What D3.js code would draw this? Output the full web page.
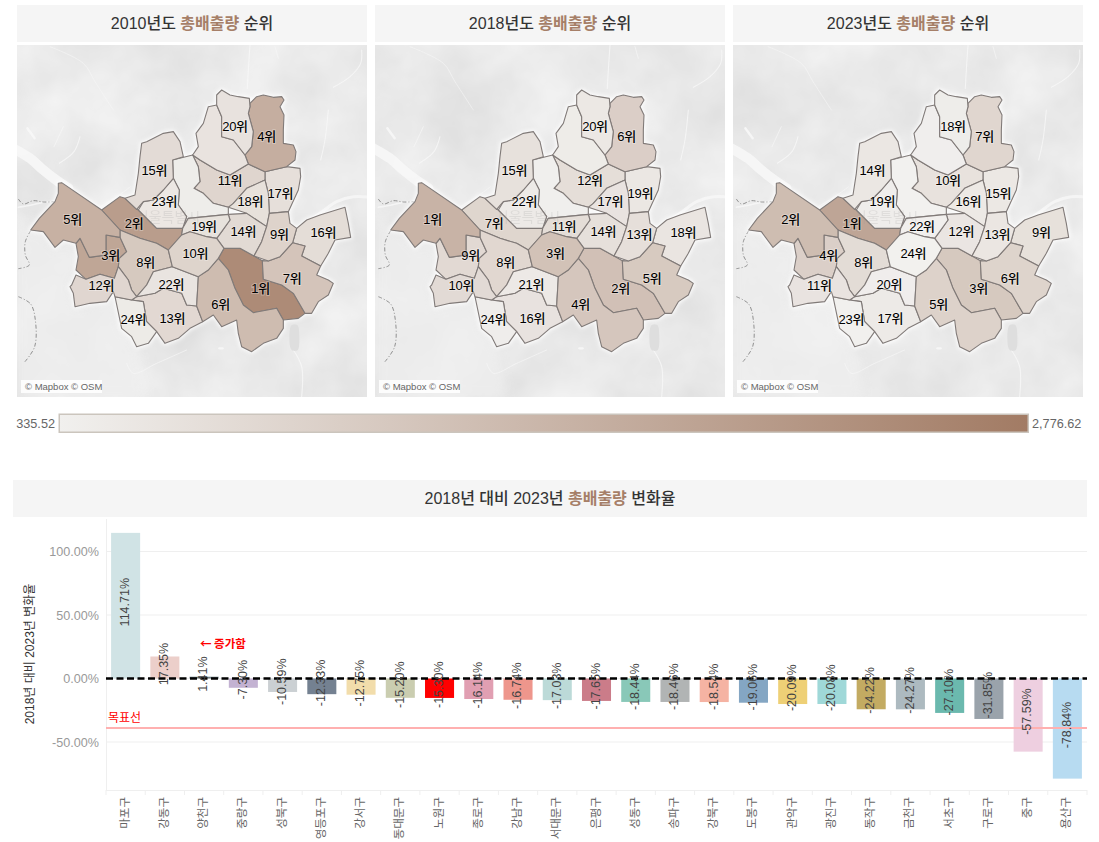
<!DOCTYPE html>
<html><head><meta charset="utf-8">
<script src="https://cdn.jsdelivr.net/npm/d3@7"></script>
<style>
html,body{margin:0;padding:0;background:#fff}
svg{display:block}
text{font-family:"Liberation Sans","Noto Sans CJK KR",sans-serif}
</style></head><body><svg id="c" width="1099" height="842"></svg>
<script>
const districts=["마포구","강동구","양천구","중랑구","성북구","영등포구","강서구","동대문구","노원구","종로구","강남구","서대문구","은평구","성동구","송파구","강북구","도봉구","관악구","광진구","동작구","금천구","서초구","구로구","중구","용산구"];
const changeRates=[114.71,17.35,1.41,-7.30,-10.59,-12.33,-12.75,-15.20,-15.30,-16.14,-16.74,-17.03,-17.65,-18.44,-18.46,-18.54,-19.06,-20.09,-20.08,-24.22,-24.27,-27.10,-31.85,-57.59,-78.84];
const barColors=["#d0e3e5","#eccfca","#6e7f85","#c3b2d2","#cbd0d3","#748191","#f2ddab","#cacdb0","#ff0000","#e19fb2","#ee968c","#bcdad8","#cb7c89","#89c8b8","#b1b4b4","#f5b3a3","#84a6c3","#eed076","#9fd8d8","#c3ab62","#adbac0","#6bb9ae","#9aa3ab","#eecfe0","#b7dbf1"];
const emissions2010=[2240,790,2045,750,980,1260,1800,720,1850,450,2650,560,830,860,1360,655,680,900,1020,635,490,1555,940,700,1000];
const emissions2018=[970,610,880,570,780,930,1750,640,1120,385,1440,495,710,730,1240,470,540,660,750,520,420,1310,850,800,1410];
const emissions2023=[2060,720,1100,550,690,820,1530,530,950,336,1250,430,570,600,1000,395,450,500,590,410,360,1040,640,380,345];
const ranks2010=[2,16,3,17,11,8,5,18,4,null,1,23,15,14,7,null,20,13,9,22,24,6,12,19,10];
const ranks2018=[7,18,9,19,12,8,1,17,6,null,2,22,15,14,5,null,20,16,13,21,24,4,10,11,3];
const ranks2023=[1,9,4,15,10,8,2,16,7,null,3,19,14,12,6,null,18,17,13,20,23,5,11,22,24];
const years=["2010","2018","2023"];
const legendDomain=[335.52,2776.62];
const yTicks=[100,50,0,-50];
// district outlines in map units
const outlines={
"도봉구":[[650,285],[665,270],[690,285],[715,290],[748,295],[750,320],[745,340],[760,395],[755,440],[735,465],[700,420],[665,410],[665,350],[650,315]],
"노원구":[[750,310],[770,290],[790,285],[820,292],[845,290],[852,300],[840,320],[852,345],[850,390],[850,430],[880,435],[888,455],[885,480],[860,500],[795,515],[745,492],[735,465],[755,440],[760,395],[745,340],[750,320]],
"강북구":[[625,320],[650,315],[665,350],[665,410],[700,420],[735,465],[745,492],[690,525],[650,510],[600,480],[578,465],[595,440],[588,400],[610,370]],
"은평구":[[425,430],[440,425],[490,400],[520,395],[540,425],[550,470],[518,480],[520,535],[490,570],[460,600],[430,605],[410,628],[375,595],[405,585],[415,520],[420,470]],
"성북구":[[578,465],[600,480],[650,510],[690,525],[745,492],[795,515],[795,540],[740,565],[700,610],[685,622],[640,610],[610,580],[582,565],[600,545],[595,500]],
"종로구":[[518,480],[578,465],[595,500],[600,545],[582,565],[610,580],[640,610],[685,622],[685,643],[565,655],[548,685],[560,650],[535,615],[538,570],[520,535]],
"서대문구":[[520,535],[538,570],[535,615],[560,650],[548,685],[470,685],[415,630],[430,605],[460,600],[490,570]],
"중랑구":[[795,515],[860,500],[900,505],[902,530],[895,570],[865,635],[808,640],[805,580],[795,540]],
"동대문구":[[795,540],[805,580],[808,640],[800,680],[740,640],[685,622],[700,610],[740,565]],
"강서구":[[175,550],[185,548],[305,630],[360,690],[360,712],[318,705],[318,765],[268,772],[240,715],[228,730],[190,720],[165,742],[130,695],[92,690],[118,655],[165,605],[175,580]],
"마포구":[[305,630],[360,590],[375,595],[410,628],[415,630],[470,685],[548,685],[545,705],[505,750],[470,730],[420,715],[360,690]],
"중구":[[548,685],[565,655],[685,643],[690,660],[665,695],[650,715],[620,710],[570,695],[545,705]],
"성동구":[[685,643],[740,640],[800,680],[785,725],[762,768],[720,745],[672,745],[650,715],[665,695],[690,660]],
"광진구":[[808,640],[865,635],[870,670],[890,685],[878,728],[840,770],[805,783],[762,768],[785,725],[800,680]],
"강동구":[[890,685],[920,660],[960,645],[1035,622],[1045,670],[1052,712],[1005,720],[985,760],[962,798],[905,768],[915,738],[878,728]],
"양천구":[[318,705],[360,712],[380,755],[358,775],[355,800],[343,835],[300,823],[258,838],[228,810],[235,770],[228,730],[240,715],[268,772],[318,765]],
"영등포구":[[360,690],[420,715],[470,730],[505,750],[517,800],[460,815],[440,855],[410,890],[395,870],[385,840],[355,800],[358,775],[380,755],[360,712]],
"용산구":[[545,705],[570,695],[620,710],[650,715],[672,745],[655,775],[625,810],[595,830],[517,800],[505,750]],
"구로구":[[215,855],[228,825],[258,838],[300,823],[343,835],[355,800],[385,840],[395,870],[410,890],[395,900],[345,890],[340,875],[320,905],[270,910],[225,920],[220,880],[210,860]],
"동작구":[[460,815],[517,800],[595,830],[590,918],[560,915],[545,880],[490,865],[465,880],[410,890],[440,855]],
"금천구":[[345,890],[395,900],[430,905],[440,965],[470,995],[445,1030],[410,1040],[395,1010],[365,985]],
"관악구":[[410,890],[465,880],[490,865],[545,880],[560,915],[590,918],[608,965],[570,985],[535,1015],[495,1030],[470,995],[440,965],[430,905],[395,900]],
"서초구":[[655,775],[685,810],[705,865],[730,915],[760,938],[830,925],[850,960],[850,985],[830,1015],[790,1030],[755,1055],[725,1040],[715,1000],[710,960],[665,980],[640,945],[608,965],[590,918],[595,830],[625,810]],
"강남구":[[655,775],[672,745],[720,745],[762,768],[787,782],[790,838],[845,855],[880,880],[915,940],[895,955],[850,960],[830,925],[760,938],[730,915],[705,865],[685,810]],
"송파구":[[878,728],[915,738],[905,768],[962,798],[950,825],[985,840],[1000,850],[985,885],[955,905],[935,940],[915,940],[880,880],[845,855],[790,838],[787,782],[805,783],[840,770]]
};
const labelAnchors={"도봉구":[705,382],"노원구":[800,412],"은평구":[463,514],"성북구":[690,544],"중랑구":[841,583],"서대문구":[493,607],"동대문구":[751,607],"강서구":[218,661],"마포구":[402,673],"중구":[612,682],"성동구":[730,697],"광진구":[838,706],"강동구":[970,700],"양천구":[332,770],"영등포구":[437,790],"용산구":[586,763],"구로구":[304,860],"동작구":[514,858],"송파구":[876,838],"강남구":[782,868],"서초구":[662,916],"금천구":[400,961],"관악구":[517,958]};
const whiteWater=[
 {w:10,o:.9,p:[[40,445],[90,475],[130,510],[175,545],[205,565]]},
 {w:1.6,o:.8,p:[[55,622],[95,615],[125,608],[170,600],[205,565]]},
 {w:3,o:.8,p:[[900,680],[960,640],[1010,605],[1060,590],[1110,592]]},
 {w:1.1,o:.8,p:[[750,135],[745,210],[742,265]]},
 {w:1,o:.7,p:[[825,140],[835,175]]},
 {w:1.1,o:.8,p:[[1085,150],[1082,190],[1050,230],[1000,262]]},
 {w:1.1,o:.8,p:[[985,330],[975,420],[962,480]]},
 {w:1,o:.6,p:[[150,140],[250,190],[285,245],[340,330]]},
 {w:1.1,o:.8,p:[[240,410],[222,455],[178,490]]},
 {w:1,o:.7,p:[[190,380],[162,440]]},
 {w:1,o:.7,p:[[380,1090],[400,1120],[470,1090],[560,1050]]},
 {w:1.2,o:.8,p:[[905,1190],[905,1100],[880,1050]]},
 {w:1,o:.6,p:[[300,620],[350,590],[392,560]]},
 {w:2.4,o:.9,p:[[82,385],[104,415]]},
 {w:2.4,o:.9,p:[[658,1045],[668,1045]]}
];
const lighterLand=[[50,620],[95,690],[130,700],[165,745],[230,740],[230,830],[210,860],[225,925],[345,890],[365,985],[410,1040],[440,1190],[50,1190]];
const dashedBorders=[
 [[55,597],[70,612],[100,602],[130,606],[165,605]],
 [[92,692],[76,725],[76,765],[88,795],[55,806]],
 [[55,890],[92,912],[106,960],[104,1040],[74,1086]]
];
const lake=[[875,975],[892,975],[898,1010],[893,1050],[875,1050],[868,1015]];

const svg=d3.select("#c");
const defs=svg.append("defs");
const col=d3.scaleLinear().domain(legendDomain).range(["#f1f0ee","#a27b64"]);
const f=defs.append("filter").attr("id","terrain").attr("x",0).attr("y",0).attr("width","100%").attr("height","100%").attr("color-interpolation-filters","sRGB");
f.append("feTurbulence").attr("type","fractalNoise").attr("baseFrequency",0.014).attr("numOctaves",4).attr("seed",11);
f.append("feColorMatrix").attr("type","matrix").attr("values",".1 0 0 0 .865  .1 0 0 0 .865  .1 0 0 0 .865  0 0 0 0 1");
defs.append("filter").attr("id","glow").attr("x","-10%").attr("y","-10%").attr("width","120%").attr("height","120%").append("feGaussianBlur").attr("stdDeviation",2.2);
defs.append("filter").attr("id","soft").attr("x","-10%").attr("y","-10%").attr("width","120%").attr("height","120%").append("feGaussianBlur").attr("stdDeviation",5);
const g=defs.append("linearGradient").attr("id","lg");
g.append("stop").attr("offset","0").attr("stop-color",col(legendDomain[0]));
g.append("stop").attr("offset","1").attr("stop-color",col(legendDomain[1]));

const title=(x,y,w,h,parts,size)=>{
 svg.append("rect").attr("x",x).attr("y",y).attr("width",w).attr("height",h).attr("fill","#f5f5f5");
 const t=svg.append("text").attr("x",x+w/2).attr("y",y+h/2+1).attr("text-anchor","middle").attr("dominant-baseline","middle").attr("font-size",size).attr("font-weight",500).attr("fill","#333");
 parts.forEach(p=>t.append("tspan").text(p.t).attr("fill",p.c||"#333").attr("font-weight",p.b?700:500));
};
const accent="#a67f68";
const pct=v=>d3.format(".2f")(v).replace("−","-")+"%";
const geoProj=d3.geoIdentity().scale(1/3);
const path=d3.geoPath(geoProj);
const lineGen=d3.line().x(d=>d[0]/3).y(d=>d[1]/3).curve(d3.curveCatmullRom);
const panelX=[17,375,733], mapDx=[-17,-15,-15];
const series=[emissions2010,emissions2018,emissions2023], rankSeries=[ranks2010,ranks2018,ranks2023];
years.forEach((yr,i)=>{
 title(panelX[i],5,350,37,[{t:yr+"년도 "},{t:"총배출량",c:accent,b:1},{t:" 순위"}],16);
 const id="clip"+i;
 defs.append("clipPath").attr("id",id).append("rect").attr("x",panelX[i]).attr("y",45).attr("width",350).attr("height",352);
 const panel=svg.append("g").attr("clip-path",`url(#${id})`);
 panel.append("rect").attr("x",panelX[i]).attr("y",45).attr("width",350).attr("height",352).attr("filter","url(#terrain)");
 const m=panel.append("g").attr("transform",`translate(${panelX[i]+mapDx[i]},0)`);
 m.append("path").attr("d",d3.line().x(d=>d[0]/3).y(d=>d[1]/3)(lighterLand)+"Z").attr("fill","#efefef").attr("opacity",.7).attr("filter","url(#soft)");
 m.selectAll(".w").data(whiteWater).join("path").attr("d",d=>lineGen(d.p)).attr("fill","none").attr("stroke","#f7f7f7").attr("stroke-opacity",d=>d.o).attr("stroke-width",d=>d.w).attr("stroke-linecap","round");
 m.selectAll(".b").data(dashedBorders).join("path").attr("d",d=>lineGen(d)).attr("fill","none").attr("stroke","#858585").attr("stroke-width",.9).attr("stroke-dasharray","4 2 1 2");
 m.append("path").attr("d",d3.line().x(d=>d[0]/3).y(d=>d[1]/3).curve(d3.curveCatmullRomClosed)(lake)).attr("fill","#dedede");
 const feats=districts.map((n,k)=>({type:"Feature",properties:{name:n,v:series[i][k],r:rankSeries[i][k]},geometry:{type:"Polygon",coordinates:[outlines[n].concat([outlines[n][0]])]}}));
 m.append("g").attr("filter","url(#glow)").selectAll("path").data(feats).join("path").attr("d",path).attr("fill","#fff").attr("stroke","#fff").attr("stroke-width",3);
 m.selectAll(".d").data(feats).join("path").attr("d",path).attr("fill",d=>col(d.properties.v)).attr("fill-opacity",.92).attr("stroke","#807a78").attr("stroke-width",1.1).attr("stroke-linejoin","round");
 m.append("text").attr("x",168).attr("y",222).attr("text-anchor","middle").attr("font-size",14).attr("fill","#999").attr("opacity",.18).text("서울특별시");
 m.selectAll(".l").data(feats.filter(d=>d.properties.r&&labelAnchors[d.properties.name])).join("text")
  .attr("x",d=>labelAnchors[d.properties.name][0]/3).attr("y",d=>labelAnchors[d.properties.name][1]/3).attr("text-anchor","middle").attr("dominant-baseline","middle")
  .attr("font-size",13).attr("letter-spacing",-0.3).attr("font-weight",500).attr("fill","#000").attr("stroke","rgba(255,255,255,.3)").attr("stroke-width",2).attr("paint-order","stroke").text(d=>d.properties.r+"위");
 panel.append("rect").attr("x",panelX[i]+4).attr("y",380).attr("width",81).attr("height",13).attr("fill","#fff").attr("opacity",.85);
 panel.append("text").attr("x",panelX[i]+8).attr("y",390).attr("font-size",9.5).attr("fill","#666").text("© Mapbox © OSM");
});
// legend
svg.append("rect").attr("x",59.25).attr("y",414.25).attr("width",969).attr("height",18).attr("fill","url(#lg)").attr("stroke","#cbc5bd").attr("stroke-width",1.5);
svg.append("text").attr("x",55).attr("y",427.5).attr("text-anchor","end").attr("font-size",12.7).attr("fill","#666").text(d3.format(".2f")(legendDomain[0]));
svg.append("text").attr("x",1032).attr("y",427.5).attr("font-size",12.7).attr("fill","#666").text(d3.format(",.2f")(legendDomain[1]));
// bar chart
title(13,480,1074,37,[{t:"2018년 대비 2023년 "},{t:"총배출량",c:accent,b:1},{t:" 변화율"}],16);
const x=d3.scaleBand().domain(districts).range([106,1087]).paddingInner(.26).paddingOuter(.13);
const y=d3.scaleLinear().domain([-87.8,125]).range([790,519.8]);
svg.append("g").selectAll("line").data(yTicks).join("line").attr("x1",106).attr("x2",1087).attr("y1",d=>y(d)).attr("y2",d=>y(d)).attr("stroke","#efefef");
svg.append("line").attr("x1",106.5).attr("x2",106.5).attr("y1",519).attr("y2",790).attr("stroke","#efefef");
svg.append("line").attr("x1",106).attr("x2",1087).attr("y1",790.5).attr("y2",790.5).attr("stroke","#efefef");
svg.selectAll(".xt").data(d3.range(26)).join("line").attr("x1",d=>106+d*x.step()).attr("x2",d=>106+d*x.step()).attr("y1",790).attr("y2",795).attr("stroke","#efefef");
svg.selectAll(".yl").data(yTicks).join("text").attr("x",99).attr("y",d=>y(d)+4.5).attr("text-anchor","end").attr("font-size",12.6).attr("fill","#999").text(pct);
svg.append("text").attr("transform","translate(34,654) rotate(-90)").attr("text-anchor","middle").attr("font-size",12).attr("fill","#333").text("2018년 대비 2023년 변화율");
const rows=districts.map((d,i)=>({d,v:changeRates[i],c:barColors[i]}));
svg.selectAll(".bar").data(rows).join("rect").attr("x",d=>x(d.d)).attr("width",x.bandwidth()).attr("y",d=>Math.min(y(d.v),y(0))).attr("height",d=>Math.abs(y(d.v)-y(0))).attr("fill",d=>d.c);
svg.append("line").attr("x1",106).attr("x2",1087).attr("y1",y(0)).attr("y2",y(0)).attr("stroke","#000").attr("stroke-width",2.5).attr("stroke-dasharray","7 3.5");
svg.append("line").attr("x1",106).attr("x2",1087).attr("y1",y(-39)).attr("y2",y(-39)).attr("stroke","#ffb0b0").attr("stroke-width",2);
svg.selectAll(".val").data(rows).join("text").attr("transform",d=>`translate(${x(d.d)+x.bandwidth()/2},${(y(d.v)+y(0))/2-3.5}) rotate(-90)`).attr("text-anchor","middle").attr("dominant-baseline","middle").attr("font-size",12.5).attr("fill","#444").text(d=>pct(d.v));
svg.selectAll(".xl").data(districts).join("text").attr("transform",d=>`translate(${x(d)+x.bandwidth()/2},797) rotate(-90)`).attr("text-anchor","end").attr("dominant-baseline","middle").attr("font-size",11.5).attr("fill","#666").text(d=>d);
svg.append("text").attr("x",200).attr("y",648).attr("font-size",11.5).attr("font-weight",700).attr("fill","#f00").style("font-family",'"Noto Sans CJK KR",sans-serif').text("← 증가함");
svg.append("text").attr("x",108).attr("y",722).attr("font-size",12).attr("fill","#f00").text("목표선");
</script></body></html>
